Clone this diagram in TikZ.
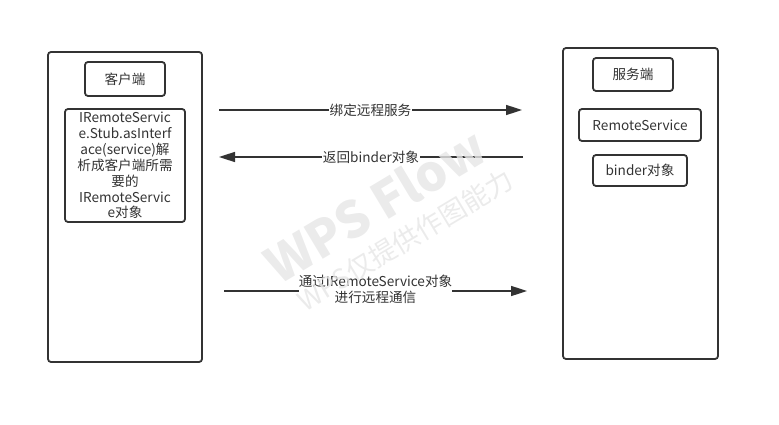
\documentclass[tikz,border=0pt]{standalone}
\usepackage{fontspec}
\setmainfont{Noto Sans CJK SC}
\usetikzlibrary{arrows.meta}
\definecolor{ink}{HTML}{333333}
\definecolor{wm}{HTML}{E6E6E6}
\tikzset{
  frame/.style={draw=ink, line width=1.8pt, rounded corners=3pt},
  box/.style={draw=ink, line width=1.8pt, rounded corners=3pt, inner sep=0pt, font=\fontsize{13.6}{15.9}\selectfont, text=ink},
  conn/.style={draw=ink, line width=1.6pt, -{Triangle[length=16pt,width=10pt]}},
  lbl/.style={fill=white, inner sep=1pt, font=\fontsize{13.6}{16}\selectfont, text=ink, align=center},
  water/.style={text=wm, opacity=0.8}
}
\begin{document}
\begin{tikzpicture}[x=1pt,y=-1pt]
\useasboundingbox (0,0) rectangle (779,425);
% frames
\draw[frame] (48,52) rectangle (202,362);
\draw[frame] (563,48) rectangle (718,359);
% client
\node[box, minimum width=80pt, minimum height=34pt] (client) at (125,79) {客户端};
\node[box, minimum width=120pt, minimum height=113pt, align=center, text width=118pt] (stub) at (125,165.5)
  {IRemoteServic\\e.Stub.asInterf\\ace(service)解\\析成客户端所需\\要的\\IRemoteServic\\e对象};
% server
\node[box, minimum width=80pt, minimum height=33pt] (server) at (633,74.5) {服务端};
\node[box, minimum width=122pt, minimum height=32pt] (rs) at (640,125) {RemoteService};
\node[box, minimum width=94pt, minimum height=31pt] (binder) at (640,170.5) {binder对象};
% connectors
\coordinate (a1s) at (219,110);
\coordinate (a1e) at (522,110);
\coordinate (a2s) at (523,157);
\coordinate (a2e) at (219,157);
\coordinate (a3s) at (224,291);
\coordinate (a3e) at (527,291);
\draw[conn] (a1s) -- node[lbl] (l1) {绑定远程服务} (a1e);
\draw[conn] (a2s) -- node[lbl, pos=0.5] (l2) {返回binder对象} (a2e);
\draw[conn] (a3s) -- node[lbl, yshift=1.5pt, inner sep=0pt] (l3) {通过IRemoteService对象\\进行远程通信} (a3e);
% watermark
\node[water, font=\bfseries\fontsize{50}{50}\selectfont, rotate=31] (wm1) at (375,205) {WPS Flow};
\node[water, font=\fontsize{27}{27}\selectfont, rotate=31] (wm2) at (405,240) {WPS仅提供作图能力};
\end{tikzpicture}
\end{document}
